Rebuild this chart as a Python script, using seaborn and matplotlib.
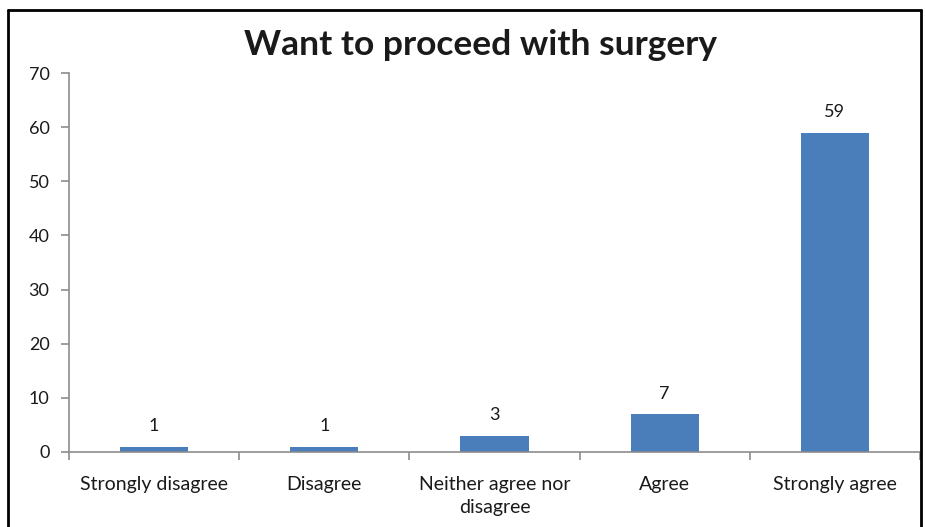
import matplotlib
matplotlib.use("Agg")
import matplotlib.pyplot as plt
from matplotlib.lines import Line2D
from matplotlib.ticker import FixedLocator
import seaborn as sns
import pandas as pd

categories = ["Strongly disagree", "Disagree", "Neither agree nor\ndisagree", "Agree", "Strongly agree"]
counts = [1, 1, 3, 7, 59]
y_ticks = [0, 10, 20, 30, 40, 50, 60, 70]
title = "Want to proceed with surgery"

sns.set_theme(style="white")
plt.rcParams["font.family"] = ["Lato", "DejaVu Sans"]

df = pd.DataFrame({"category": categories, "count": counts})

fig = plt.figure(figsize=(9.25, 5.27), dpi=100)
ax = fig.add_axes([69 / 925, 1 - 452 / 527, (920 - 69) / 925, (452 - 73) / 527])

sns.barplot(data=df, x="category", y="count", color="#4a7ebb", saturation=1,
            width=0.4, linewidth=0, edgecolor="none", ax=ax)

ax.set_ylim(0, 70)
ax.set_xlim(-0.5, len(categories) - 0.5)
ax.set_yticks(y_ticks)
ax.set_xlabel("")
ax.set_ylabel("")

axis_grey = "#8c8c8c"
for side in ["top", "right"]:
    ax.spines[side].set_visible(False)
for side in ["left", "bottom"]:
    ax.spines[side].set_color(axis_grey)
    ax.spines[side].set_linewidth(1.2)

ax.tick_params(axis="y", which="major", direction="out", length=6, width=1.2,
               color=axis_grey, labelsize=13, labelcolor="#1a1a1a", pad=8, left=True)
ax.tick_params(axis="x", which="major", length=0, labelsize=14, labelcolor="#1a1a1a", pad=17)
ax.xaxis.set_minor_locator(FixedLocator([i - 0.5 for i in range(len(categories) + 1)]))
ax.tick_params(axis="x", which="minor", direction="out", length=6, width=1.2,
               color=axis_grey, bottom=True)
for lbl in ax.get_xticklabels():
    lbl.set_linespacing(1.45)

for container in ax.containers:
    ax.bar_label(container, labels=[str(v) for v in counts], padding=9,
                 fontsize=13, color="#1a1a1a")

fig.text(481 / 925, 1 - 45 / 527, title, ha="center", va="center",
         fontsize=25.5, fontweight="bold", color="#1a1a1a")

# outer frame of the chart area
frame_kw = dict(color="black", linewidth=2, transform=fig.transFigure, clip_on=False)
x0, x1 = 8 / 925, 921 / 925
ytop = 1 - 10 / 527
fig.add_artist(Line2D([x0, x1], [ytop, ytop], **frame_kw))
fig.add_artist(Line2D([x0, x0], [0, ytop], **frame_kw))
fig.add_artist(Line2D([x1, x1], [0, ytop], **frame_kw))

fig.savefig("out.png", dpi=100)
